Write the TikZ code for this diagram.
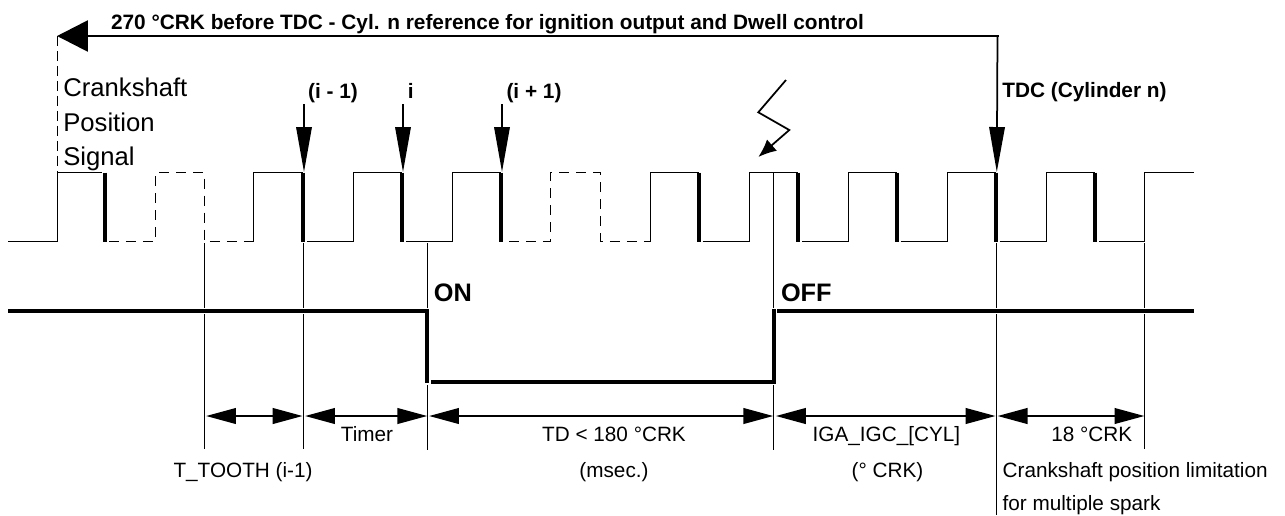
\documentclass[tikz,border=0pt]{standalone}
\usepackage{fontspec}
\setmainfont{Liberation Sans}
\usetikzlibrary{arrows.meta}
\tikzset{
  >=Latex,
  pulse/.style={line width=.02cm,draw=black},
  pulseGap/.style={pulse,dash pattern=on .2cm off .14cm},
  edge/.style={line width=.08cm,draw=black},
  tick/.style={line width=.02cm,draw=black},
  state/.style={line width=.08cm,draw=black,line cap=butt},
  down/.style={-{Triangle[length=.9cm,width=.31cm]},line width=.035cm,draw=black},
  span/.style={{Triangle[length=.6cm,width=.31cm]}-{Triangle[length=.6cm,width=.31cm]},line width=.05cm,draw=black},
  refline/.style={-{Triangle[length=.62cm,width=.62cm]},line width=.055cm,draw=black},
  spark/.style={-{Latex[length=.36cm,width=.3cm]},line width=.035cm,draw=black},
  label/.style={font=\fontsize{11.8pt}{13pt}\selectfont,anchor=base,inner sep=0pt},
  labelLeft/.style={label,anchor=base west},
  bold/.style={label,font=\fontsize{11.85pt}{13pt}\selectfont\bfseries},
  boldLeft/.style={bold,anchor=base west},
  big/.style={font=\fontsize{14.6pt}{16pt}\selectfont,anchor=base west,inner sep=0pt},
  bigBold/.style={big,font=\fontsize{14.4pt}{16pt}\selectfont\bfseries}
}
\begin{document}
\begin{tikzpicture}[x=.02cm,y=-.02cm]
  \useasboundingbox (0,0) rectangle (1285,515);
  % crank signal
  \draw[pulse] (8,241)--(57,241)--(57,172.5)--(102,172.5);
  \draw[pulseGap] (109,241)--(155.5,241)--(155.5,172.5)--(204.3,172.5)--(204.3,241)--(253.5,241);
  \draw[pulse] (253.5,241)--(253.5,172.5)--(303,172.5);
  \draw[pulse] (307,241)--(353.5,241)--(353.5,172.5)--(402,172.5);
  \draw[pulse] (406,241)--(452.5,241)--(452.5,172.5)--(501,172.5);
  \draw[pulseGap] (509,241)--(550.5,241)--(550.5,172.5)--(600.5,172.5)--(600.5,241)--(650.5,241);
  \draw[pulse] (650.5,241)--(650.5,172.5)--(698.5,172.5);
  \draw[pulse] (702.5,241)--(749,241)--(749,172.5)--(798,172.5);
  \draw[pulse] (802,241)--(848,241)--(848,172.5)--(896.5,172.5);
  \draw[pulse] (900.5,241)--(947.5,241)--(947.5,172.5)--(995.5,172.5);
  \draw[pulse] (999.5,241)--(1046.5,241)--(1046.5,172.5)--(1095,172.5);
  \draw[pulse] (1099,241)--(1144.5,241)--(1144.5,172.5)--(1194,172.5);
  \draw[edge] (105,172.5)--(105,242);
  \draw[edge] (303,172.5)--(303,242);
  \draw[edge] (402,172.5)--(402,242);
  \draw[edge] (501,172.5)--(501,242);
  \draw[edge] (698.5,172.5)--(698.5,242);
  \draw[edge] (798,172.5)--(798,242);
  \draw[edge] (896.5,172.5)--(896.5,242);
  \draw[edge] (995.5,172.5)--(995.5,242);
  \draw[edge] (1095,172.5)--(1095,242);
  % ignition state
  \draw[state] (8,311)--(427.3,311)--(427.3,383);
  \draw[state] (431,381.5)--(774,381.5)--(774,309);
  \draw[state] (777,311)--(1194,311);
  % ticks
  \draw[tick] (204.5,243)--(204.5,308);
  \draw[tick] (204.5,314)--(204.5,449);
  \draw[tick] (303.5,243)--(303.5,308);
  \draw[tick] (303.5,314)--(303.5,449);
  \draw[tick] (427.5,243)--(427.5,308);
  \draw[tick] (427.5,385)--(427.5,450);
  \draw[tick] (773.5,172.5)--(773.5,308);
  \draw[tick] (773.5,385)--(773.5,450);
  \draw[tick] (996.5,243)--(996.5,308);
  \draw[tick] (996.5,314)--(996.5,515);
  \draw[tick] (1144.5,243)--(1144.5,308);
  \draw[tick] (1144.5,314)--(1144.5,449);
  % top reference
  \coordinate (refStart) at (999,36);
  \coordinate (refEnd) at (57,36);
  \coordinate (refFoot) at (57,172.5);
  \coordinate (tdcTop) at (997.5,36);
  \coordinate (tdcEdge) at (996.8,172);
  \draw[refline] (refStart)--(refEnd);
  \draw[down] (tdcTop)--(tdcEdge);
  \draw[pulseGap,dash pattern=on .2cm off .1cm] (refEnd)--(refFoot);
  \node[boldLeft] (refText) at (110.7,29) {270 °CRK before TDC - Cyl. n reference for ignition output and Dwell control};
  % tooth marks
  \coordinate (prevTop) at (304,104);
  \coordinate (prevEdge) at (304,172);
  \coordinate (curTop) at (403,104);
  \coordinate (curEdge) at (403,172);
  \coordinate (nextTop) at (502,104);
  \coordinate (nextEdge) at (502,172);
  \draw[down] (prevTop)--(prevEdge);
  \draw[down] (curTop)--(curEdge);
  \draw[down] (nextTop)--(nextEdge);
  \node[bold] (prevText) at (333,98) {(i - 1)};
  \node[bold] (curText) at (410.7,98) {i};
  \node[bold] (nextText) at (534,98) {(i + 1)};
  \node[boldLeft] (tdcText) at (1002,97) {TDC (Cylinder n)};
  % signal name
  \node[big] (crankA) at (63,96.5) {Crankshaft};
  \node[big] (crankB) at (63,131) {Position};
  \node[big] (crankC) at (63,165) {Signal};
  % spark
  \coordinate (sparkA) at (786,80);
  \coordinate (sparkB) at (758.3,112.3);
  \coordinate (sparkC) at (789.3,130);
  \coordinate (sparkD) at (758.3,157);
  \draw[spark] (sparkA)--(sparkB)--(sparkC)--(sparkD);
  % on off
  \node[bigBold] (onText) at (433.5,301.7) {ON};
  \node[bigBold] (offText) at (780.7,301.7) {OFF};
  % spans
  \coordinate (spanA) at (206,416);
  \coordinate (spanB) at (302.7,416);
  \coordinate (spanC) at (305,416);
  \coordinate (spanD) at (427.3,416);
  \coordinate (spanE) at (429,416);
  \coordinate (spanF) at (773.3,416);
  \coordinate (spanG) at (775.8,416);
  \coordinate (spanH) at (995.6,416);
  \coordinate (spanI) at (997.5,416);
  \coordinate (spanJ) at (1144.5,416);
  \draw[span] (spanA)--(spanB);
  \draw[span] (spanC)--(spanD);
  \draw[span] (spanE)--(spanF);
  \draw[span] (spanG)--(spanH);
  \draw[span] (spanI)--(spanJ);
  \node[label] (timerText) at (367,441.7) {Timer};
  \node[label] (tdText) at (614,441.7) {TD < 180 °CRK};
  \node[label] (igaText) at (886.4,441.7) {IGA\_IGC\_[CYL]};
  \node[label] (degText) at (1091.7,441.7) {18 °CRK};
  \node[label] (toothText) at (243,477) {T\_TOOTH (i-1)};
  \node[label] (msecText) at (614,477) {(msec.)};
  \node[label] (crkText) at (887.5,477) {(° CRK)};
  \node[labelLeft] (limitA) at (1002.3,477) {Crankshaft position limitation};
  \node[labelLeft] (limitB) at (1002.3,510) {for multiple spark};
\end{tikzpicture}
\end{document}
